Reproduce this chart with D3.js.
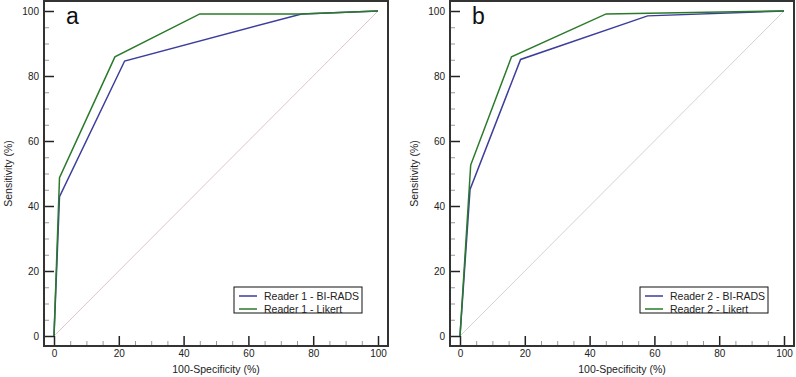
<!DOCTYPE html>
<html>
<head>
<meta charset="utf-8">
<script src="https://cdn.jsdelivr.net/npm/d3@7"></script>
<style>
  body { margin: 0; background: #fff; }
  svg { display: block; font-family: "Liberation Sans", Arial, sans-serif; }
  .axis text { font-size: 10px; fill: #222; }
  .major line { stroke: #222; stroke-width: 1.5; }
  .minor line { stroke: #999; stroke-width: 1; }
</style>
</head>
<body>
<svg id="chart" width="796" height="377"></svg>
<script>
// panel a
const aBiradsX = [0, 1.7, 21.8, 76.4, 100];
const aBiradsY = [0, 42.9, 84.6, 99.1, 100];
const aLikertX = [0, 1.7, 18.8, 45.0, 76.4, 100];
const aLikertY = [0, 48.7, 85.9, 99.1, 99.1, 100];
// panel b
const bBiradsX = [0, 3.1, 18.7, 57.9, 100];
const bBiradsY = [0, 45.1, 85.1, 98.5, 100];
const bLikertX = [0, 3.3, 15.9, 45.1, 100];
const bLikertY = [0, 52.6, 85.9, 99.1, 100];

const majorTicks = [0, 20, 40, 60, 80, 100];
const minorTicks = d3.range(0, 101, 5).filter(v => v % 20 !== 0);

const BLUE = "#3d3d9c", GREEN = "#2b7a2b";

const panels = [
  {letter: "a", left: 44, diag: "#dcc6c6",
   series: [{name: "Reader 1 - BI-RADS", xs: aBiradsX, ys: aBiradsY, color: BLUE},
            {name: "Reader 1 - Likert", xs: aLikertX, ys: aLikertY, color: GREEN}]},
  {letter: "b", left: 450, diag: "#d2d2d2",
   series: [{name: "Reader 2 - BI-RADS", xs: bBiradsX, ys: bBiradsY, color: BLUE},
            {name: "Reader 2 - Likert", xs: bLikertX, ys: bLikertY, color: GREEN}]}
];

const svg = d3.select("#chart");
const frameW = 344, frameTop = 1, frameBottom = 346, pad = 10;

function drawPanel(p) {
  const g = svg.append("g");
  const x = d3.scaleLinear().domain([0, 100]).range([p.left + pad, p.left + frameW - pad]);
  const y = d3.scaleLinear().domain([0, 100]).range([frameBottom - pad, frameTop + pad]);

  // minor ticks
  g.append("g").attr("class", "axis minor")
    .attr("transform", `translate(${p.left},0)`)
    .call(d3.axisLeft(y).tickValues(minorTicks).tickSize(-5).tickFormat(""))
    .call(a => a.select(".domain").remove());
  g.append("g").attr("class", "axis minor")
    .attr("transform", `translate(0,${frameBottom})`)
    .call(d3.axisBottom(x).tickValues(minorTicks).tickSize(-5).tickFormat(""))
    .call(a => a.select(".domain").remove());

  // major ticks
  g.append("g").attr("class", "axis major")
    .attr("transform", `translate(${p.left},0)`)
    .call(d3.axisLeft(y).tickValues(majorTicks).tickSize(-10).tickPadding(5))
    .call(a => a.select(".domain").remove());
  g.append("g").attr("class", "axis major")
    .attr("transform", `translate(0,${frameBottom})`)
    .call(d3.axisBottom(x).tickValues(majorTicks).tickSize(-10).tickPadding(4))
    .call(a => a.select(".domain").remove());

  // diagonal
  g.append("line")
    .attr("x1", x(0)).attr("y1", y(0)).attr("x2", x(100)).attr("y2", y(100))
    .attr("stroke", p.diag).attr("stroke-width", 1);

  const line = d3.line().x(d => x(d[0])).y(d => y(d[1]));
  for (const s of p.series) {
    g.append("path")
      .datum(s.xs.map((v, i) => [v, s.ys[i]]))
      .attr("d", line)
      .attr("fill", "none")
      .attr("stroke", s.color)
      .attr("stroke-width", 1.5);
  }

  // frame
  g.append("rect")
    .attr("x", p.left).attr("y", frameTop).attr("width", frameW).attr("height", frameBottom - frameTop)
    .attr("fill", "none").attr("stroke", "#333").attr("stroke-width", 2);

  g.append("text").attr("x", p.left + 22).attr("y", 24)
    .attr("font-size", 23).attr("fill", "#111").text(p.letter);

  // legend
  const lx = p.left + 190, ly = 287;
  g.append("rect").attr("x", lx).attr("y", ly).attr("width", 128).attr("height", 26)
    .attr("fill", "#fff").attr("stroke", "#111").attr("stroke-width", 1);
  p.series.forEach((s, i) => {
    const yy = ly + 9 + i * 13;
    g.append("line").attr("x1", lx + 5).attr("x2", lx + 23).attr("y1", yy).attr("y2", yy)
      .attr("stroke", s.color).attr("stroke-width", 1.5);
    g.append("text").attr("x", lx + 30).attr("y", yy + 4)
      .attr("font-size", 10.5).attr("fill", "#222").text(s.name);
  });

  // axis titles
  g.append("text").attr("x", p.left + frameW / 2).attr("y", 373)
    .attr("text-anchor", "middle").attr("font-size", 10.5).attr("fill", "#222")
    .text("100-Specificity (%)");
  g.append("text")
    .attr("transform", `translate(${p.left - 32},${(frameTop + frameBottom) / 2}) rotate(-90)`)
    .attr("text-anchor", "middle").attr("font-size", 10.5).attr("fill", "#222")
    .text("Sensitivity (%)");
}

panels.forEach(drawPanel);
</script>
</body>
</html>
